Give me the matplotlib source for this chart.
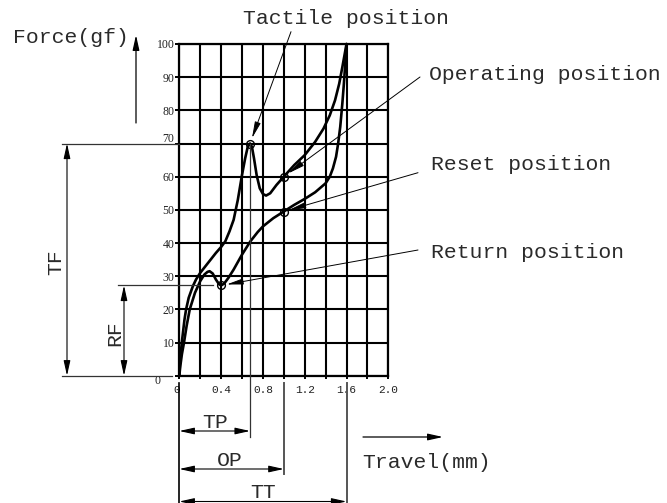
import matplotlib
matplotlib.use("Agg")
import matplotlib.pyplot as plt
import matplotlib.transforms as mtransforms
import numpy as np

# ---------------- data ----------------
travel_press = [0, 0.005, 0.012, 0.024, 0.035, 0.05, 0.065, 0.09, 0.13, 0.16, 0.2, 0.25, 0.3,
                0.35, 0.4, 0.44, 0.48, 0.52, 0.56, 0.6, 0.63, 0.655, 0.677, 0.695, 0.715,
                0.74, 0.77, 0.8, 0.83, 0.87, 0.93, 1.0, 1.1, 1.2, 1.3, 1.38, 1.44, 1.49,
                1.53, 1.56, 1.58, 1.6]
force_press = [0, 3, 6, 10, 13, 17, 20, 23.5, 27, 29, 31, 33, 35,
               37, 38.8, 40.5, 43.5, 47, 53, 60.5, 65.5, 69, 70, 69, 65.5,
               60.5, 56.5, 54.8, 54.3, 55, 57.5, 60, 63.5, 66.5, 70.5, 74.5, 78.5, 83,
               88, 93, 96.5, 100]

travel_release = [0, 0.01, 0.025, 0.045, 0.07, 0.1, 0.15, 0.2, 0.24, 0.27, 0.29, 0.32, 0.35,
                  0.38, 0.4, 0.43, 0.47, 0.52, 0.6, 0.68, 0.75, 0.8, 0.9, 1.0, 1.1, 1.2,
                  1.3, 1.4, 1.44, 1.47, 1.5, 1.52, 1.54, 1.56, 1.575, 1.59, 1.6]
force_release = [0, 3, 6.5, 10, 15, 20, 25, 28.5, 30.5, 31.3, 31.5, 30.8, 29,
                 27.6, 27.2, 27.8, 29.5, 32, 36.5, 40.5, 43.3, 45, 47.5, 49.5, 51.5, 53.3,
                 55.3, 58, 60, 62.5, 66, 70, 75, 82, 88, 95, 100]

point_names = ["Tactile position", "Operating position", "Reset position", "Return position"]
point_travel = [0.677, 1.0, 1.0, 0.4]
point_force = [70, 60, 49.5, 27.2]

x_ticks = [0, 0.2, 0.4, 0.6, 0.8, 1.0, 1.2, 1.4, 1.6, 1.8, 2.0]
x_tick_labels = ["0", "", "0.4", "", "0.8", "", "1.2", "", "1.6", "", "2.0"]
y_ticks = [0, 10, 20, 30, 40, 50, 60, 70, 80, 90, 100]
y_tick_labels = ["0", "10", "20", "30", "40", "50", "60", "70", "80", "90", "100"]

# ---------------- figure ----------------
W, H = 667, 503
fig = plt.figure(figsize=(W / 100, H / 100), dpi=100)
fig.patch.set_facecolor("white")

x0, x1 = 179.3, 388.3
y0, y1 = 375.7, 44.0
ax = fig.add_axes([x0 / W, (H - y0) / H, (x1 - x0) / W, (y0 - y1) / H])
ax.set_xlim(0, 2.0)
ax.set_ylim(0, 100)
ax.set_facecolor("none")
ax.set_xticks(x_ticks)
ax.set_xticklabels(x_tick_labels, family="Liberation Mono", fontsize=8, color="#222222")
ax.set_yticks(y_ticks)
ax.set_yticklabels(y_tick_labels, family="Liberation Serif", fontsize=8.5, color="#222222")
ax.grid(True, color="black", lw=1.5)
for s in ax.spines.values():
    s.set_linewidth(1.6)
ax.tick_params(axis="y", direction="out", length=3.0, width=1.4, pad=0.5)
ax.tick_params(axis="x", direction="out", length=2.0, width=1.4, pad=4.5)

# shift a couple of labels like the reference
for lab in ax.get_yticklabels():
    t = lab.get_text()
    if t == "70":
        lab.set_transform(lab.get_transform() + mtransforms.ScaledTranslation(0, 4 / 72, fig.dpi_scale_trans))
    if t == "0":
        lab.set_transform(lab.get_transform() + mtransforms.ScaledTranslation(-10 / 72, -3 / 72, fig.dpi_scale_trans))
for lab in ax.get_xticklabels():
    if lab.get_text() == "0":
        lab.set_transform(lab.get_transform() + mtransforms.ScaledTranslation(-2 / 72, 0, fig.dpi_scale_trans))

ax.plot(travel_press, force_press, color="black", lw=1.9, solid_joinstyle="round",
        solid_capstyle="round", zorder=4, clip_on=False)
ax.plot(travel_release, force_release, color="black", lw=1.9, solid_joinstyle="round",
        solid_capstyle="round", zorder=4, clip_on=False)
ax.plot(point_travel, point_force, linestyle="none", marker="o", ms=5.6, mfc="none",
        mec="black", mew=1.0, zorder=5, clip_on=False)

# ---------------- overlay in pixel coordinates ----------------
ov = fig.add_axes([0, 0, 1, 1], zorder=3)
ov.set_xlim(0, W)
ov.set_ylim(H, 0)
ov.axis("off")
ov.patch.set_alpha(0)

bx = mtransforms.blended_transform_factory(ax.transData, ov.transData)  # x data, y pixel
by = mtransforms.blended_transform_factory(ov.transData, ax.transData)  # x pixel, y data

MONO = "Liberation Mono"
FS = 15.4
TXT = "#2a2a2a"
LC = "#333333"

def dim_arrow(xy_a, xy_b, trans):
    ov.annotate("", xy=xy_b, xycoords=trans, xytext=xy_a, textcoords=trans,
                arrowprops=dict(arrowstyle="<|-|>,head_length=0.9,head_width=0.2",
                                color="black", lw=0.8, shrinkA=0, shrinkB=0,
                                mutation_scale=10))

# Force axis label + arrow
ov.text(13, 37, "Force(gf)", family=MONO, fontsize=FS, color=TXT, va="center", ha="left")
ov.annotate("", xy=(136, 35), xytext=(136, 123),
            arrowprops=dict(arrowstyle="-|>,head_length=0.9,head_width=0.2", color="black",
                            lw=0.9, shrinkA=0, shrinkB=0, mutation_scale=10))

# Travel label + arrow
ov.text(362, 463, "Travel(mm)", family=MONO, fontsize=FS, color=TXT, va="center", ha="left")
ov.annotate("", xy=(443, 437), xytext=(363, 437),
            arrowprops=dict(arrowstyle="-|>,head_length=0.9,head_width=0.2", color="black",
                            lw=0.9, shrinkA=0, shrinkB=0, mutation_scale=10))

# point labels and leader arrows
label_pos = [(243, 18), (429, 74), (431, 164), (431, 252)]
leader_start = [(291, 31.7), (420, 77), (418, 172.7), (418, 250)]
for name, (lx, ly), (sx, sy), px, py in zip(point_names, label_pos, leader_start, point_travel, point_force):
    ov.text(lx, ly, name, family=MONO, fontsize=FS, color=TXT, va="center", ha="left")
    ov.annotate("", xy=(px, py), xycoords=ax.transData, xytext=(sx, sy), textcoords=ov.transData,
                arrowprops=dict(arrowstyle="-|>,head_length=1.0,head_width=0.18", color="black",
                                lw=0.7, shrinkA=0, shrinkB=4, mutation_scale=10))

# TF dimension
tf = point_force[0]
rf = point_force[3]
ov.plot([62, 179.3], [tf, tf], color=LC, lw=0.9, transform=by)
ov.plot([62, 172], [0, 0], color=LC, lw=0.9, transform=by)
dim_arrow((67, tf), (67, 0), by)
ov.text(56, 262, "TF", family=MONO, fontsize=FS, color=TXT, rotation=90, va="center", ha="center")

# RF dimension
ov.plot([118, 213], [rf, rf], color=LC, lw=0.9, transform=by)
dim_arrow((124, rf), (124, 0), by)
ov.text(115, 333, "RF", family=MONO, fontsize=FS, color=TXT, rotation=90, va="center", ha="center")

# vertical extension lines below the chart
ov.plot([point_travel[0], point_travel[0]], [376 - point_force[0] * 3.317, 437], color=LC, lw=0.9, transform=bx)
ov.plot([0, 0], [383, 503], color="black", lw=1.2, transform=bx)
ov.plot([1.0, 1.0], [383, 474], color="#555555", lw=1.4, transform=bx)
ov.plot([1.6, 1.6], [383, 503], color="#555555", lw=1.4, transform=bx)

# TP / OP / TT dimensions
dim_arrow((0, 431), (point_travel[0], 431), bx)
dim_arrow((0, 469), (1.0, 469), bx)
dim_arrow((0, 501.5), (1.6, 501.5), bx)
ov.text(215, 422, "TP", family=MONO, fontsize=FS, color=TXT, va="center", ha="center")
ov.text(230, 460, "OP", family=MONO, fontsize=FS, color=TXT, va="center", ha="center")
ov.text(263, 493, "TT", family=MONO, fontsize=FS, color=TXT, va="center", ha="center")

fig.savefig("out.png", dpi=100, facecolor="white")
